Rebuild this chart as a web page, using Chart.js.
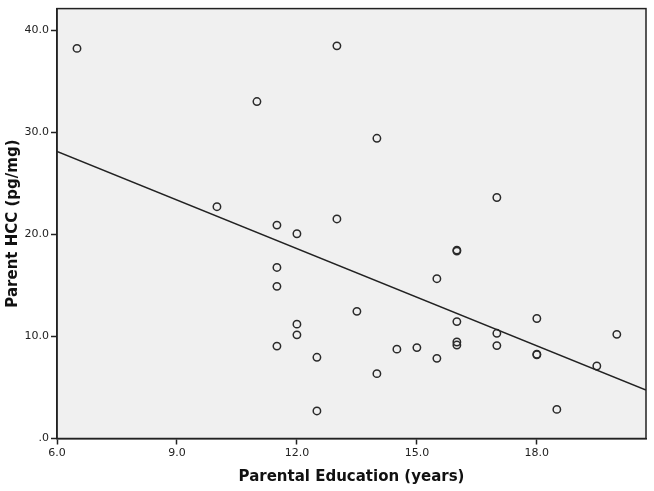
<!DOCTYPE html>
<html>
<head>
<meta charset="utf-8">
<script src="https://cdn.jsdelivr.net/npm/chart.js@4"></script>
<style>
  html, body { margin: 0; padding: 0; background: #fff; }
  #wrap { width: 654px; height: 491px; }
</style>
</head>
<body>
<div id="wrap"><canvas id="chart"></canvas></div>
<script>
// values
const eduYears = [6.5, 11.0, 10.0, 11.5, 12.0, 13.0, 14.0, 17.0, 13.0, 16.0, 16.0,
  11.5, 11.5, 12.0, 12.0, 11.5, 12.5, 12.5, 15.5, 13.5, 16.0, 18.0, 17.0, 20.0,
  14.5, 15.0, 16.0, 16.0, 17.0, 18.0, 18.0, 15.5, 14.0, 19.5, 18.5];
const parentHcc = [38.2, 33.0, 22.7, 20.9, 20.05, 38.45, 29.4, 23.6, 21.5, 18.45, 18.35,
  16.75, 14.9, 11.2, 10.15, 9.05, 7.95, 2.7, 15.65, 12.45, 11.45, 11.75, 10.3, 10.2,
  8.75, 8.9, 9.45, 9.15, 9.1, 8.25, 8.2, 7.85, 6.35, 7.1, 2.85];

// fit line end points (x, y)
const fitX = [6.0, 20.73];
const fitY = [28.1, 4.75];

const xTicks = [6, 9, 12, 15, 18];
const yTicks = [0, 10, 20, 30, 40];

const fmt = v => v === 0 ? '.0' : v.toFixed(1);

// grey plot panel with frame
const panel = {
  id: 'panel',
  beforeDraw(chart) {
    const { ctx, chartArea: a } = chart;
    ctx.save();
    ctx.fillStyle = '#f0f0f0';
    ctx.fillRect(a.left, a.top, a.right - a.left, a.bottom - a.top);
    ctx.restore();
  },
  afterDraw(chart) {
    const { ctx, chartArea: a } = chart;
    ctx.save();
    ctx.strokeStyle = '#222';
    ctx.lineWidth = 1.5;
    ctx.strokeRect(a.left, a.top, a.right - a.left, a.bottom - a.top);
    ctx.restore();
  }
};

const tickFont = { family: 'DejaVu Sans', size: 11 };
const titleFont = { family: 'DejaVu Sans', size: 15, weight: 'bold' };

new Chart(document.getElementById('chart'), {
  type: 'scatter',
  data: {
    datasets: [
      {
        label: 'fit',
        type: 'line',
        data: fitX.map((x, i) => ({ x, y: fitY[i] })),
        borderColor: '#222',
        borderWidth: 1.5,
        pointRadius: 0,
        fill: false
      },
      {
        label: 'Parent HCC',
        data: eduYears.map((x, i) => ({ x, y: parentHcc[i] })),
        pointRadius: 3.7,
        pointBorderWidth: 1.5,
        pointBorderColor: '#2a2a2a',
        pointBackgroundColor: 'rgba(0,0,0,0)'
      }
    ]
  },
  options: {
    responsive: true,
    maintainAspectRatio: false,
    animation: false,
    layout: { padding: { top: 6, right: 8, left: 0, bottom: 0 } },
    plugins: { legend: { display: false }, tooltip: { enabled: false } },
    scales: {
      x: {
        type: 'linear',
        min: 6, max: 20.73,
        afterBuildTicks: s => { s.ticks = xTicks.map(v => ({ value: v })); },
        afterFit: s => { s.height = 52.5; },
        border: { display: true, color: '#222', width: 1.5 },
        grid: { drawOnChartArea: false, drawTicks: true, tickLength: 6, color: '#222', tickWidth: 1.5 },
        ticks: { font: tickFont, color: '#222', padding: 2, maxRotation: 0, callback: v => fmt(v) },
        title: { display: true, text: 'Parental Education (years)', font: titleFont, color: '#111', padding: { top: 0, bottom: 5 } }
      },
      y: {
        type: 'linear',
        min: 0, max: 42.1,
        afterBuildTicks: s => { s.ticks = yTicks.map(v => ({ value: v })); },
        afterFit: s => { s.width = 57; },
        border: { display: true, color: '#222', width: 1.5 },
        grid: { drawOnChartArea: false, drawTicks: true, tickLength: 6, color: '#222', tickWidth: 1.5 },
        ticks: { font: tickFont, color: '#222', padding: 2, callback: v => fmt(v) },
        title: { display: true, text: 'Parent HCC (pg/mg)', font: titleFont, color: '#111', padding: { top: 4, bottom: 0 } }
      }
    }
  },
  plugins: [panel]
});
</script>
</body>
</html>
